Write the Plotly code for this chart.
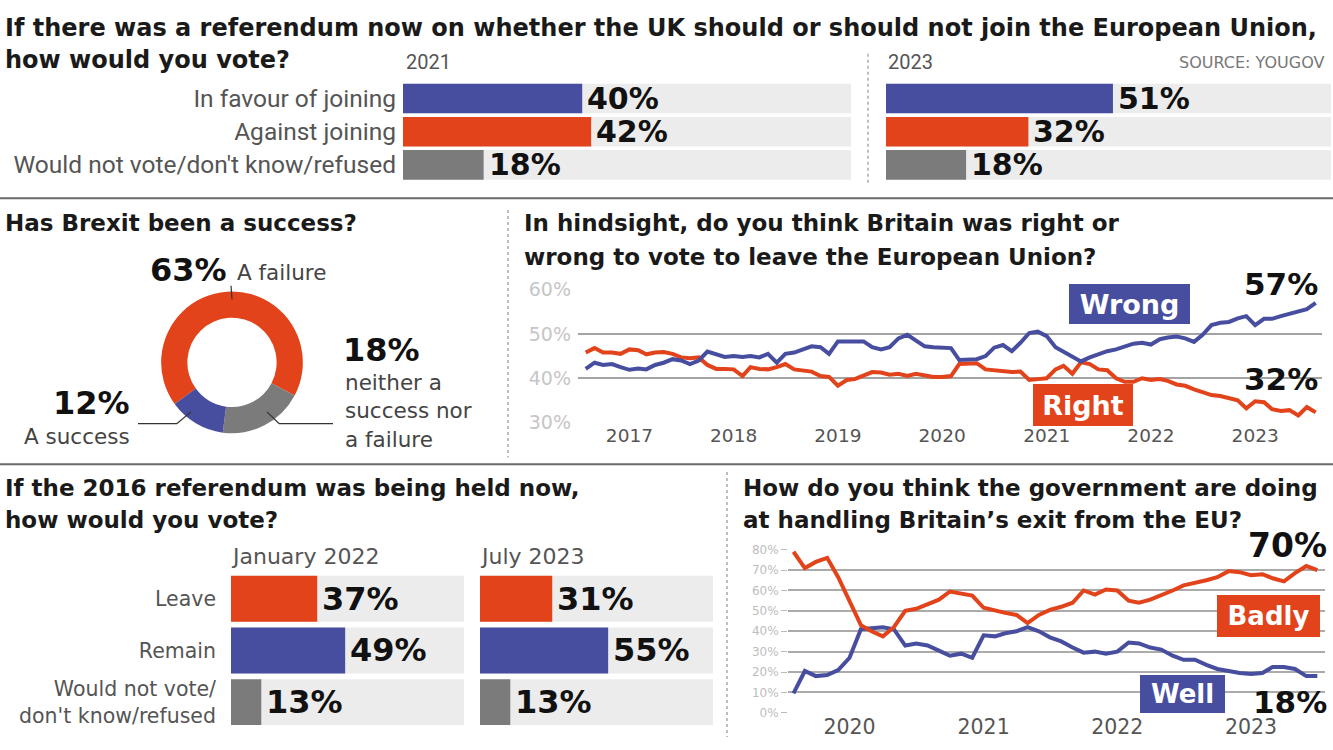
import plotly.graph_objects as go
import pandas as pd

# ---------------- DATA ----------------
top_categories = ["In favour of joining", "Against joining", "Would not vote/don't know/refused"]
top_2021 = [40, 42, 18]
top_2023 = [51, 32, 18]

donut_labels = ["A failure", "neither a success nor a failure", "A success"]
donut_values = [63, 18, 12]

hindsight_start = "2016-08-01"
wrong = [42.1, 43.5, 43.0, 43.2, 42.5, 41.9, 42.2, 42.0, 43.0, 43.5,
         44.3, 44.0, 43.2, 44.0, 46.0, 45.5, 44.8, 45.0, 44.8, 45.0,
         44.7, 45.5, 43.5, 45.5, 45.8, 46.5, 47.2, 47.0, 45.5, 48.3,
         48.3, 48.5, 48.3, 47.0, 46.5, 47.0, 49.0, 49.8, 48.5, 47.2,
         47.0, 47.0, 46.8, 44.1, 44.1, 44.3, 45.0, 46.9, 47.5, 46.1,
         48.0, 50.2, 50.5, 49.5, 47.0, 46.0, 44.8, 43.8, 44.7, 45.5,
         46.1, 46.5, 47.2, 47.8, 48.0, 47.6, 48.8, 49.2, 49.4, 49.0,
         48.2, 49.8, 52.0, 52.5, 52.7, 53.5, 54.0, 52.0, 53.4, 53.4,
         54.0, 54.5, 55.2, 55.6, 57.0]
right = [45.8, 46.8, 45.8, 45.8, 45.5, 46.5, 46.3, 45.4, 45.8, 45.9,
         45.5, 44.7, 44.5, 44.7, 43.0, 42.1, 42.1, 42.0, 40.5, 42.5,
         42.1, 42.0, 42.5, 43.2, 42.0, 41.8, 41.5, 40.5, 40.3, 38.3,
         39.6, 39.8, 40.5, 41.4, 41.3, 40.8, 41.0, 40.5, 41.0, 40.6,
         40.3, 40.3, 40.5, 43.2, 43.2, 43.4, 42.0, 41.8, 41.5, 41.4,
         41.5, 39.6, 39.8, 40.0, 42.0, 42.8, 41.0, 43.6, 43.2, 42.0,
         41.8, 40.0, 39.2, 39.2, 40.0, 39.6, 39.8, 39.4, 38.6, 38.3,
         37.5, 36.8, 36.2, 36.0, 35.5, 35.0, 33.2, 34.8, 34.6, 33.0,
         32.6, 32.8, 31.6, 33.5, 32.3]
hindsight_years = ["2017", "2018", "2019", "2020", "2021", "2022", "2023"]
hindsight_ticks = [30, 40, 50, 60]

govt_start = "2019-08-01"
badly = [79, 71, 74, 76, 66.5, 55, 43, 40, 37.5, 42,
         50, 51, 53.5, 55.5, 59.5, 58.5, 57.5, 51.5, 50, 49,
         48, 44, 48, 50.5, 52, 54, 60, 58, 60.5, 60,
         55, 54, 55.5, 57.5, 60, 62.5, 63.5, 65, 66.5, 69.5,
         69, 67.5, 68, 66, 64.5, 68.5, 72, 70]
well = [9.5, 20.5, 18, 18.5, 21, 27, 41, 41.5, 42, 41,
        33, 34, 33, 30.5, 28, 29, 27, 38, 37.5, 39,
        40, 42, 40, 37, 35, 32, 29.5, 30, 29, 30,
        34.5, 34, 32, 31, 28, 26, 26, 23.5, 21.5, 20.5,
        19.5, 19, 19.5, 22.5, 22.5, 21.5, 18, 18]
govt_years = ["2020", "2021", "2022", "2023"]
govt_ticks = [0, 10, 20, 30, 40, 50, 60, 70, 80]

ref_categories = ["Leave", "Remain", "Would not vote/<br>don't know/refused"]
jan_2022 = [37, 49, 13]
jul_2023 = [31, 55, 13]

FULL = 100

# ---------------- STYLE ----------------
W, H = 1333, 750
def px(x): return x / W
def py(y): return 1 - y / H

BLUE = "#474e9f"
RED = "#e2431a"
GREY = "#7b7b7b"
TRACK = "#ececec"
HEAD = "DejaVu Sans"
WIDE = "DejaVu Sans"
NARROW = "Roboto"
NUM = "DejaVu Sans"

hind_dates = pd.date_range(hindsight_start, periods=len(wrong), freq="MS")
govt_dates = pd.date_range(govt_start, periods=len(badly), freq="MS")

fig = go.Figure()

def bars(cats, vals, colors, xa, ya):
    fig.add_trace(go.Bar(y=cats, x=[FULL] * len(cats), orientation="h",
                         marker=dict(color=TRACK, line=dict(width=0)),
                         xaxis=xa, yaxis=ya, hoverinfo="skip", showlegend=False))
    fig.add_trace(go.Bar(y=cats, x=vals, orientation="h",
                         marker=dict(color=colors, line=dict(width=0)),
                         xaxis=xa, yaxis=ya, showlegend=False))

bars(top_categories, top_2021, [BLUE, RED, GREY], "x", "y")
bars(top_categories, top_2023, [BLUE, RED, GREY], "x2", "y2")
bars(ref_categories, jan_2022, [RED, BLUE, GREY], "x4", "y4")
bars(ref_categories, jul_2023, [RED, BLUE, GREY], "x5", "y5")

fig.add_trace(go.Scatter(x=hind_dates, y=right, mode="lines",
                         line=dict(color=RED, width=4), xaxis="x3", yaxis="y3",
                         showlegend=False))
fig.add_trace(go.Scatter(x=hind_dates, y=wrong, mode="lines",
                         line=dict(color=BLUE, width=4), xaxis="x3", yaxis="y3",
                         showlegend=False))
fig.add_trace(go.Scatter(x=govt_dates, y=well, mode="lines",
                         line=dict(color=BLUE, width=4), xaxis="x6", yaxis="y6",
                         showlegend=False))
fig.add_trace(go.Scatter(x=govt_dates, y=badly, mode="lines",
                         line=dict(color=RED, width=4), xaxis="x6", yaxis="y6",
                         showlegend=False))

fig.add_trace(go.Pie(values=donut_values, labels=donut_labels, hole=0.63, sort=False,
                     direction="clockwise", rotation=234,
                     marker=dict(colors=[RED, GREY, BLUE], line=dict(width=0)),
                     textinfo="none", showlegend=False,
                     domain=dict(x=[px(159), px(305)], y=[py(435), py(289)])))

bar_x = dict(range=[0, FULL], showgrid=False, zeroline=False, showticklabels=False,
             fixedrange=True)

layout = dict(
    width=W, height=H, margin=dict(l=0, r=0, t=0, b=0),
    paper_bgcolor="white", plot_bgcolor="rgba(0,0,0,0)",
    barmode="overlay", bargap=0.11, showlegend=False,
    xaxis=dict(domain=[px(403), px(851)], anchor="y", **bar_x),
    yaxis=dict(domain=[py(178.6), py(70)], anchor="x", autorange="reversed",
               showgrid=False, zeroline=False, ticks="",
               tickfont=dict(family=NARROW, size=24.5, color="#555"),
               ticklabelstandoff=6),
    xaxis2=dict(domain=[px(886), px(1331)], anchor="y2", **bar_x),
    yaxis2=dict(domain=[py(178.6), py(70)], anchor="x2", autorange="reversed",
                showgrid=False, zeroline=False, showticklabels=False),
    xaxis3=dict(domain=[px(578), px(1322)], anchor="y3",
                range=["2016-07-05", "2023-08-23"],
                tickvals=[f"{y}-01-01" for y in hindsight_years], ticktext=hindsight_years,
                showgrid=False, zeroline=False, showline=False, ticks="",
                tickfont=dict(family=WIDE, size=18.5, color="#555")),
    yaxis3=dict(domain=[py(424), py(287)], anchor="x3", range=[30, 60],
                tickvals=hindsight_ticks, ticktext=[f"{v}%" for v in hindsight_ticks],
                showgrid=True, gridcolor="#a3a3a3", gridwidth=1.5, zeroline=False,
                ticks="", ticklabelstandoff=6,
                tickfont=dict(family=WIDE, size=19, color="#c6c6c6")),
    xaxis4=dict(domain=[px(231), px(464)], anchor="y4", **bar_x),
    yaxis4=dict(domain=[py(738.6), py(579)], anchor="x4", autorange="reversed",
                showgrid=False, zeroline=False, ticks="",
                tickfont=dict(family=WIDE, size=20.5, color="#555"),
                ticklabelstandoff=14),
    xaxis5=dict(domain=[px(480), px(713)], anchor="y5", **bar_x),
    yaxis5=dict(domain=[py(738.6), py(579)], anchor="x5", autorange="reversed",
                showgrid=False, zeroline=False, showticklabels=False),
    xaxis6=dict(domain=[px(788), px(1325)], anchor="y6",
                range=["2019-07-17", "2023-07-22"],
                tickvals=[f"{y}-01-01" for y in govt_years], ticktext=govt_years,
                showgrid=False, zeroline=False, showline=False, ticks="",
                tickfont=dict(family=WIDE, size=20.5, color="#555")),
    yaxis6=dict(domain=[py(723), py(555)], anchor="x6", range=[0, 80],
                tickvals=govt_ticks, ticktext=[f"{v}%" for v in govt_ticks],
                showgrid=True, gridcolor="#ababab", gridwidth=1.5,
                zeroline=False, ticks="outside", ticklen=6, tickcolor="#bbb",
                tickfont=dict(family=WIDE, size=12, color="#bdbdbd")),
)
fig.update_layout(**layout)

shapes = []
def line(x0, y0, x1, y1, color="#666", width=2, dash="solid"):
    shapes.append(dict(type="line", xref="paper", yref="paper",
                       x0=px(x0), y0=py(y0), x1=px(x1), y1=py(y1),
                       line=dict(color=color, width=width, dash=dash)))

line(0, 193, W, 193, "#6a6a6a", 2)
line(0, 467, W, 467, "#6a6a6a", 2)
line(868, 44, 868, 178, "#aaa", 1.5, "dot")
line(508, 205, 508, 460, "#aaa", 1.5, "dot")
line(727, 475, 727, 748, "#aaa", 1.5, "dot")
# donut leaders
line(231, 283, 232, 297, "#333", 1.2)
line(267, 413, 279, 425, "#333", 1.2)
line(279, 425, 333, 425, "#333", 1.2)
line(191, 413, 177, 425, "#333", 1.2)
line(177, 425, 138, 425, "#333", 1.2)
fig.update_layout(shapes=shapes)

ann = []
def note(text, x, y, size=23, color="#1a1a1a", family=HEAD, anchor="left", **kw):
    ann.append(dict(text=text, x=px(x), y=py(y), xref="paper", yref="paper",
                    xanchor=anchor, yanchor="middle", showarrow=False,
                    font=dict(family=family, size=size, color=color), **kw))

def title(text, x, y, size=23):
    note(f"<b>{text}</b>", x, y, size, "#1a1a1a", HEAD)

def box(text, cx, cy, w, h, color, size=26):
    ann.append(dict(text=f"<b>{text}</b>", x=px(cx), y=py(cy), xref="paper", yref="paper",
                    xanchor="center", yanchor="middle", showarrow=False,
                    width=w, height=h, bgcolor=color, borderpad=0, borderwidth=0,
                    valign="middle", align="center",
                    font=dict(family=NUM, size=size, color="white")))

# titles
title("If there was a referendum now on whether the UK should or should not join the European Union,", 3, 17, 24)
title("how would you vote?", 3, 50, 24)
note("2021", 404, 53, 20, "#555", NARROW)
note("2023", 886, 53, 20, "#555", NARROW)
note("SOURCE: YOUGOV", 1326, 53, 16, "#777", WIDE, "right")
title("Has Brexit been a success?", 3, 218)
title("In hindsight, do you think Britain was right or", 522, 218)
title("wrong to vote to leave the European Union?", 522, 253)
title("If the 2016 referendum was being held now,", 3, 491)
title("how would you vote?", 3, 524)
title("How do you think the government are doing", 741, 491)
title("at handling Britain\u2019s exit from the EU?", 741, 524)
note("January 2022", 229, 562, 22, "#555", WIDE)
note("July 2023", 478, 562, 22, "#555", WIDE)

# donut labels
note(f"<b>{donut_values[0]}%</b>", 229, 267, 32, "#111", NUM, "right")
note(donut_labels[0], 235, 269, 21.5, "#444", WIDE)
note(f"<b>{donut_values[1]}%</b>", 341, 349, 32, "#111", NUM)
note("neither a", 343, 383, 21.5, "#444", WIDE)
note("success nor", 343, 412, 21.5, "#444", WIDE)
note("a failure", 343, 441, 21.5, "#444", WIDE)
note(f"<b>{donut_values[2]}%</b>", 132, 404, 32, "#111", NUM, "right")
note(donut_labels[2], 132, 438, 21.5, "#444", WIDE, "right")

# line labels
box("Wrong", 1129.5, 302, 121, 40, BLUE, 27)
box("Right", 1083, 406, 100, 42, RED, 27)
note(f"<b>{round(wrong[-1])}%</b>", 1320, 281, 31, "#111", NUM, "right")
note(f"<b>{round(right[-1])}%</b>", 1320, 379, 31, "#111", NUM, "right")
box("Badly", 1268.5, 623, 103, 42, RED, 26)
box("Well", 1182.5, 704, 85, 38, BLUE, 26)
note(f"<b>{round(badly[-1])}%</b>", 1329, 551, 33, "#111", NUM, "right")
note(f"<b>{round(well[-1])}%</b>", 1329, 712, 31, "#111", NUM, "right")

# bar value labels
def values(cats, vals, xr, yr, size):
    for c, v in zip(cats, vals):
        ann.append(dict(text=f"<b>{v}%</b>", x=v, y=c, xref=xr, yref=yr,
                        xanchor="left", yanchor="middle", xshift=3, showarrow=False,
                        font=dict(family=NUM, size=size, color="#111")))

values(top_categories, top_2021, "x", "y", 30)
values(top_categories, top_2023, "x2", "y2", 30)
values(ref_categories, jan_2022, "x4", "y4", 32)
values(ref_categories, jul_2023, "x5", "y5", 32)

fig.update_layout(annotations=ann)

page_reset = """
document.documentElement.style.margin='0';
document.body.style.margin='0';
document.documentElement.style.overflow='hidden';
document.body.style.overflow='hidden';
"""
fig.write_html("out.html", config={"displayModeBar": False}, post_script=page_reset)
